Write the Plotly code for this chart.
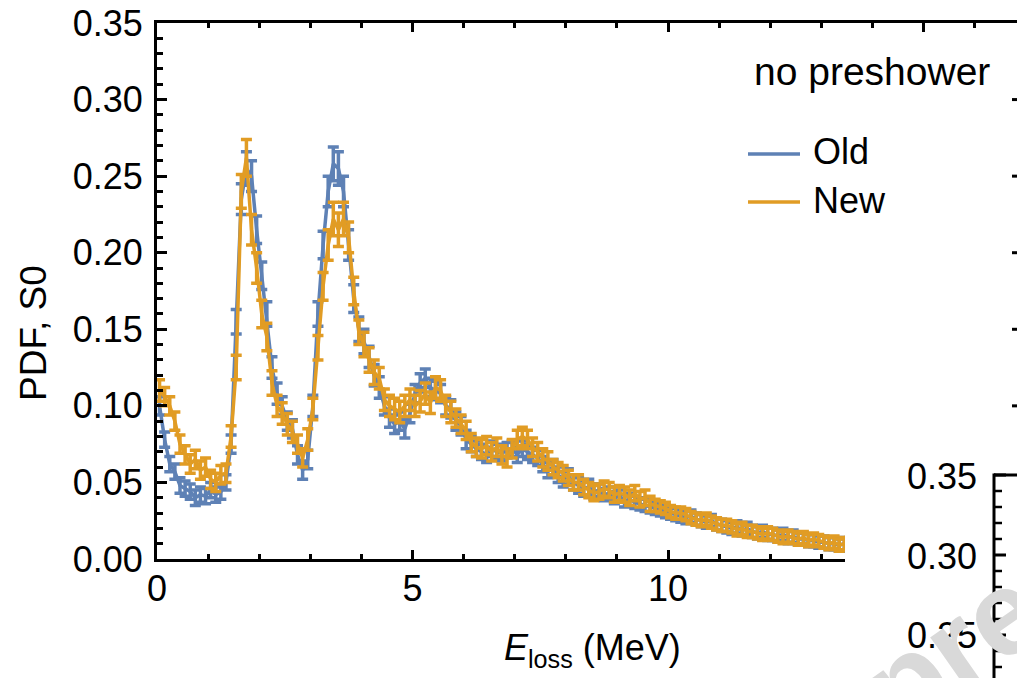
import plotly.graph_objects as go

# ---------------- data ----------------
energy = [0.05, 0.15, 0.25, 0.35, 0.45, 0.55, 0.65, 0.75, 0.85, 0.95,
          1.05, 1.15, 1.25, 1.35, 1.45, 1.55, 1.65, 1.75, 1.85, 1.95,
          2.05, 2.15, 2.25, 2.35, 2.45, 2.55, 2.65, 2.75, 2.85, 2.95,
          3.05, 3.15, 3.25, 3.35, 3.45, 3.55, 3.65, 3.75, 3.85, 3.95,
          4.05, 4.15, 4.25, 4.35, 4.45, 4.55, 4.65, 4.75, 4.85, 4.95,
          5.05, 5.15, 5.25, 5.35, 5.45, 5.55, 5.65, 5.75, 5.85, 5.95,
          6.05, 6.15, 6.25, 6.35, 6.45, 6.55, 6.65, 6.75, 6.85, 6.95,
          7.05, 7.15, 7.25, 7.35, 7.45, 7.55, 7.65, 7.75, 7.85, 7.95,
          8.05, 8.15, 8.25, 8.35, 8.45, 8.55, 8.65, 8.75, 8.85, 8.95,
          9.05, 9.15, 9.25, 9.35, 9.45, 9.55, 9.65, 9.75, 9.85, 9.95,
          10.05, 10.15, 10.25, 10.35, 10.45, 10.55, 10.65, 10.75, 10.85, 10.95,
          11.05, 11.15, 11.25, 11.35, 11.45, 11.55, 11.65, 11.75, 11.85, 11.95,
          12.05, 12.15, 12.25, 12.35, 12.45, 12.55, 12.65, 12.75, 12.85, 12.95,
          13.05, 13.15, 13.25, 13.35, 13.45, 13.55, 13.65, 13.75, 13.85, 13.95]

pdf_old = [0.100, 0.078, 0.062, 0.057, 0.048, 0.046, 0.044, 0.040, 0.042, 0.041,
           0.045, 0.042, 0.044, 0.050, 0.075, 0.155, 0.235, 0.255, 0.250, 0.215,
           0.185, 0.160, 0.125, 0.108, 0.100, 0.090, 0.085, 0.068, 0.058, 0.065,
           0.100, 0.160, 0.205, 0.240, 0.258, 0.255, 0.240, 0.205, 0.170, 0.150,
           0.142, 0.132, 0.120, 0.112, 0.100, 0.092, 0.088, 0.090, 0.085, 0.095,
           0.108, 0.115, 0.118, 0.112, 0.110, 0.108, 0.100, 0.098, 0.090, 0.087,
           0.078, 0.075, 0.072, 0.070, 0.068, 0.072, 0.070, 0.069, 0.071, 0.072,
           0.068, 0.072, 0.070, 0.068, 0.066, 0.062, 0.058, 0.060, 0.055, 0.052,
           0.054, 0.050, 0.048, 0.046, 0.047, 0.044, 0.045, 0.042, 0.043, 0.040,
           0.041, 0.038, 0.039, 0.037, 0.036, 0.035, 0.034, 0.033, 0.032, 0.031,
           0.030, 0.029, 0.028, 0.027, 0.028, 0.026, 0.025, 0.024, 0.025, 0.023,
           0.022, 0.021, 0.020, 0.021, 0.019, 0.020, 0.018, 0.017, 0.018, 0.016,
           0.016, 0.015, 0.016, 0.014, 0.015, 0.013, 0.013, 0.012, 0.012, 0.011,
           0.011, 0.010, 0.010, 0.009, 0.010, 0.009, 0.010, 0.008, 0.009, 0.008]

err_old = [0.006, 0.005, 0.005, 0.005, 0.005, 0.005, 0.005, 0.005, 0.005, 0.005,
           0.005, 0.005, 0.005, 0.005, 0.006, 0.008, 0.010, 0.011, 0.010, 0.009,
           0.009, 0.008, 0.007, 0.007, 0.006, 0.006, 0.006, 0.006, 0.006, 0.006,
           0.007, 0.008, 0.009, 0.010, 0.011, 0.011, 0.010, 0.010, 0.009, 0.008,
           0.008, 0.007, 0.007, 0.007, 0.006, 0.006, 0.006, 0.006, 0.006, 0.006,
           0.006, 0.006, 0.006, 0.006, 0.006, 0.006, 0.006, 0.006, 0.006, 0.006,
           0.006, 0.005, 0.005, 0.005, 0.005, 0.005, 0.005, 0.005, 0.005, 0.005,
           0.005, 0.005, 0.005, 0.005, 0.005, 0.005, 0.005, 0.005, 0.005, 0.005,
           0.005, 0.005, 0.005, 0.005, 0.005, 0.005, 0.004, 0.004, 0.004, 0.004,
           0.004, 0.004, 0.004, 0.004, 0.004, 0.004, 0.004, 0.004, 0.004, 0.004,
           0.004, 0.004, 0.004, 0.004, 0.004, 0.004, 0.004, 0.004, 0.004, 0.004,
           0.004, 0.004, 0.004, 0.004, 0.004, 0.004, 0.004, 0.004, 0.004, 0.004,
           0.004, 0.004, 0.004, 0.004, 0.004, 0.004, 0.004, 0.004, 0.004, 0.004,
           0.004, 0.004, 0.004, 0.004, 0.004, 0.004, 0.004, 0.004, 0.004, 0.004]

pdf_new = [0.110, 0.106, 0.100, 0.090, 0.075, 0.068, 0.062, 0.065, 0.058, 0.060,
           0.052, 0.050, 0.055, 0.056, 0.080, 0.125, 0.240, 0.262, 0.215, 0.190,
           0.160, 0.145, 0.115, 0.100, 0.095, 0.088, 0.083, 0.075, 0.066, 0.078,
           0.098, 0.138, 0.178, 0.205, 0.222, 0.215, 0.222, 0.210, 0.175, 0.148,
           0.140, 0.130, 0.122, 0.118, 0.104, 0.100, 0.098, 0.096, 0.100, 0.104,
           0.100, 0.103, 0.108, 0.102, 0.112, 0.110, 0.100, 0.096, 0.092, 0.088,
           0.084, 0.076, 0.073, 0.072, 0.074, 0.070, 0.073, 0.068, 0.066, 0.072,
           0.078, 0.080, 0.078, 0.073, 0.070, 0.066, 0.064, 0.060, 0.058, 0.056,
           0.053, 0.050, 0.050, 0.047, 0.045, 0.043, 0.044, 0.046, 0.045, 0.042,
           0.043, 0.042, 0.040, 0.043, 0.039, 0.040, 0.036, 0.035, 0.034, 0.033,
           0.031, 0.030, 0.030, 0.029, 0.027, 0.026, 0.025, 0.026, 0.024, 0.023,
           0.022, 0.022, 0.021, 0.019, 0.020, 0.018, 0.018, 0.017, 0.016, 0.017,
           0.016, 0.015, 0.014, 0.015, 0.014, 0.013, 0.014, 0.012, 0.013, 0.012,
           0.011, 0.010, 0.011, 0.009, 0.010, 0.010, 0.009, 0.009, 0.008, 0.009]

err_new = [0.007, 0.006, 0.006, 0.006, 0.006, 0.006, 0.006, 0.006, 0.006, 0.006,
           0.006, 0.006, 0.006, 0.006, 0.007, 0.008, 0.011, 0.012, 0.010, 0.010,
           0.009, 0.009, 0.008, 0.007, 0.007, 0.007, 0.007, 0.006, 0.006, 0.007,
           0.007, 0.008, 0.009, 0.010, 0.011, 0.011, 0.011, 0.010, 0.009, 0.008,
           0.008, 0.008, 0.008, 0.007, 0.007, 0.007, 0.007, 0.007, 0.007, 0.007,
           0.007, 0.007, 0.007, 0.007, 0.007, 0.007, 0.007, 0.007, 0.006, 0.006,
           0.006, 0.006, 0.006, 0.006, 0.006, 0.006, 0.006, 0.006, 0.006, 0.006,
           0.006, 0.006, 0.006, 0.006, 0.006, 0.006, 0.006, 0.005, 0.005, 0.005,
           0.005, 0.005, 0.005, 0.005, 0.005, 0.005, 0.005, 0.005, 0.005, 0.005,
           0.005, 0.005, 0.005, 0.005, 0.005, 0.005, 0.005, 0.004, 0.004, 0.004,
           0.004, 0.004, 0.004, 0.004, 0.004, 0.004, 0.004, 0.004, 0.004, 0.004,
           0.004, 0.004, 0.004, 0.004, 0.004, 0.004, 0.004, 0.004, 0.004, 0.004,
           0.004, 0.004, 0.004, 0.004, 0.004, 0.004, 0.004, 0.004, 0.004, 0.004,
           0.004, 0.004, 0.004, 0.004, 0.004, 0.004, 0.004, 0.004, 0.004, 0.004]

series_names = ["Old", "New"]
legend_title = "no preshower"
x_title = "<i>E</i><sub>loss</sub> (MeV)"
y_title = "PDF, S0"

# neighbouring (cropped) panels
right_frame_ticks = [0.05, 0.10, 0.15, 0.20, 0.25, 0.30]
lower_panel_major = [0.35, 0.30, 0.25]
lower_panel_minor = [0.34, 0.33, 0.32, 0.31, 0.29, 0.28, 0.27, 0.26, 0.24, 0.23]
lower_panel_labels = ["0.35", "0.30", "0.25"]

# ---------------- styling ----------------
BLUE = "rgb(94,129,181)"
ORANGE = "rgb(225,156,36)"
FONT = "Liberation Sans, Arial, Helvetica, sans-serif"

W, H = 1017, 678
L, R, T, B = 157, 0, 23, 119
PW, PH = W - L - R, H - T - B


def px(xp):
    return (xp - L) / PW


def py(yp):
    return (H - B - yp) / PH


fig = go.Figure()
for name, vals, errs, col in [("Old", pdf_old, err_old, BLUE),
                              ("New", pdf_new, err_new, ORANGE)]:
    fig.add_trace(go.Scatter(
        x=energy, y=vals, mode="lines", name=name, showlegend=False,
        line=dict(color=col, width=3.5),
        error_y=dict(type="data", array=errs, color=col, thickness=3.5, width=5.5),
    ))

axis_common = dict(
    showline=True, linecolor="black", linewidth=3,
    ticks="inside", tickcolor="black", tickwidth=3,
    showgrid=False, zeroline=False,
    tickfont=dict(family=FONT, size=36, color="black"),
)

fig.update_xaxes(
    range=[0, PW / 51.1], tick0=0, dtick=5, ticklen=9, mirror="ticks",
    ticklabelstandoff=-4,
    minor=dict(dtick=1, ticklen=5, tickwidth=2.5, tickcolor="black", ticks="inside"),
    **axis_common,
)
fig.update_yaxes(
    range=[0, 0.35], tick0=0, dtick=0.05, tickformat=".2f", ticklen=10, mirror=False,
    ticklabelstandoff=4,
    minor=dict(dtick=0.01, ticklen=6, tickwidth=2.5, tickcolor="black", ticks="inside"),
    **axis_common,
)

shapes = []
# right frame of the main panel lies just outside the crop; only tips of its major ticks show
for v in right_frame_ticks:
    shapes.append(dict(type="line", xref="paper", yref="y", x0=px(1012), x1=px(1018),
                       y0=v, y1=v, line=dict(color="black", width=3), layer="above"))
# lower-right neighbouring panel (white background covers the main panel)
shapes.append(dict(type="rect", xref="paper", yref="paper", x0=px(845), x1=px(1030),
                   y0=py(690), y1=py(462), fillcolor="white", line=dict(width=0), layer="above"))
LP_X, LP_TOP = 994, 475


def lp_y(v):
    return LP_TOP + (0.35 - v) * 1600


shapes.append(dict(type="line", xref="paper", yref="paper", x0=px(LP_X), x1=px(LP_X),
                   y0=py(LP_TOP - 1.5), y1=py(690), line=dict(color="black", width=3), layer="above"))
shapes.append(dict(type="line", xref="paper", yref="paper", x0=px(LP_X), x1=px(1030),
                   y0=py(LP_TOP), y1=py(LP_TOP), line=dict(color="black", width=3), layer="above"))
for v in lower_panel_major:
    shapes.append(dict(type="line", xref="paper", yref="paper", x0=px(LP_X), x1=px(LP_X + 12),
                       y0=py(lp_y(v)), y1=py(lp_y(v)), line=dict(color="black", width=3), layer="above"))
for v in lower_panel_minor:
    shapes.append(dict(type="line", xref="paper", yref="paper", x0=px(LP_X), x1=px(LP_X + 8),
                       y0=py(lp_y(v)), y1=py(lp_y(v)), line=dict(color="black", width=2.5), layer="above"))
# legend samples
for yy, col in [(154, BLUE), (202, ORANGE)]:
    shapes.append(dict(type="line", xref="paper", yref="paper", x0=px(748), x1=px(800),
                       y0=py(yy), y1=py(yy), line=dict(color=col, width=3.5), layer="above"))

annotations = []
annotations.append(dict(text=legend_title, xref="paper", yref="paper", x=px(752), y=py(72),
                        xanchor="left", yanchor="middle", showarrow=False,
                        font=dict(family=FONT, size=39, color="black")))
for yy, name in [(152, series_names[0]), (200, series_names[1])]:
    annotations.append(dict(text=name, xref="paper", yref="paper", x=px(811), y=py(yy),
                            xanchor="left", yanchor="middle", showarrow=False,
                            font=dict(family=FONT, size=36, color="black")))
annotations.append(dict(text=x_title, xref="paper", yref="paper", x=px(592), y=py(650),
                        xanchor="center", yanchor="middle", showarrow=False,
                        font=dict(family=FONT, size=36, color="black")))
annotations.append(dict(text=y_title, xref="paper", yref="paper", x=px(33), y=py(333),
                        xanchor="center", yanchor="middle", showarrow=False, textangle=-90,
                        font=dict(family=FONT, size=37, color="black")))
for v, lab in zip(lower_panel_major, lower_panel_labels):
    annotations.append(dict(text=lab, xref="paper", yref="paper", x=px(979), y=py(lp_y(v) + 1),
                            xanchor="right", yanchor="middle", showarrow=False,
                            font=dict(family=FONT, size=36, color="black")))
# watermark
annotations.append(dict(text="<b>preprint</b>", xref="paper", yref="paper", x=px(1061), y=py(572),
                        xanchor="center", yanchor="middle", showarrow=False, textangle=-35,
                        font=dict(family=FONT, size=120, color="rgb(217,217,217)")))

fig.update_layout(
    width=W, height=H, margin=dict(l=L, r=R, t=T, b=B, pad=0),
    paper_bgcolor="white", plot_bgcolor="white",
    shapes=shapes, annotations=annotations, showlegend=False,
)

fig.write_html("out.html")
